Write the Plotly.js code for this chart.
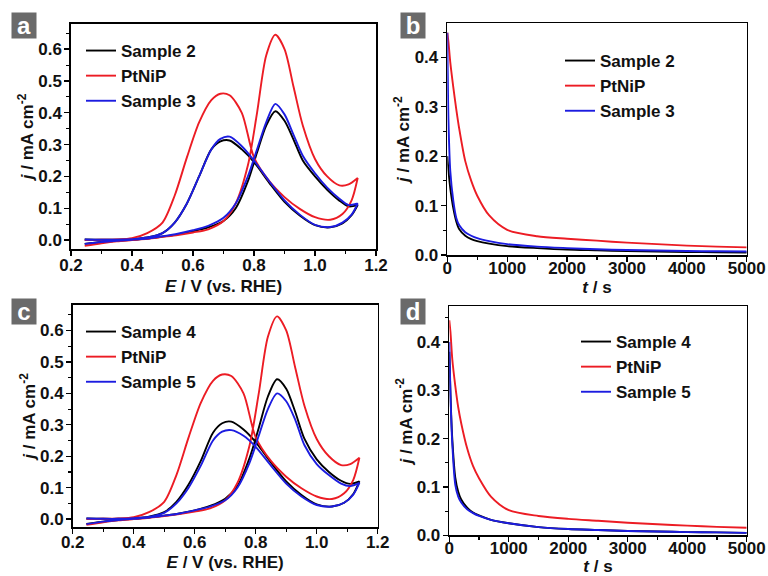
<!DOCTYPE html>
<html>
<head>
<meta charset="utf-8">
<script src="https://cdn.plot.ly/plotly-3.0.1.min.js"></script>
<style>html,body{margin:0;padding:0;background:#fff;}#chart{width:768px;height:576px;}</style>
</head>
<body>
<div id="chart"></div>
<script>
// ---- CV potential grids (V vs. RHE) ----
const cvE_fwd = [0.245,0.30,0.35,0.40,0.45,0.50,0.55,0.60,0.65,0.70,0.74,0.78,0.81,0.84,0.87,0.90,0.93,0.96,1.00,1.04,1.08,1.11,1.14];
const cvE_rev = [1.14,1.12,1.09,1.05,1.00,0.95,0.90,0.85,0.80,0.76,0.72,0.69,0.66,0.62,0.58,0.54,0.50,0.45,0.40,0.35,0.30,0.245];

// ---- CV current densities (mA cm-2) ----
const ptnip_fwd = [-0.018,-0.010,-0.004,0.000,0.004,0.010,0.016,0.024,0.034,0.060,0.115,0.235,0.400,0.580,0.645,0.600,0.480,0.360,0.255,0.200,0.172,0.175,0.195];
const ptnip_rev = [0.195,0.125,0.082,0.064,0.072,0.098,0.135,0.185,0.260,0.400,0.455,0.460,0.440,0.370,0.260,0.140,0.055,0.022,0.006,0.002,0.001,0.000];

const s2_fwd = [-0.012,-0.006,-0.002,0.001,0.005,0.011,0.018,0.028,0.040,0.060,0.100,0.185,0.275,0.360,0.405,0.375,0.315,0.250,0.200,0.158,0.124,0.106,0.110];
const s2_rev = [0.110,0.078,0.052,0.040,0.047,0.077,0.120,0.180,0.245,0.285,0.313,0.310,0.285,0.200,0.115,0.055,0.022,0.008,0.003,0.001,0.001,0.002];

const s3_fwd = [-0.012,-0.006,-0.002,0.001,0.005,0.012,0.020,0.031,0.045,0.070,0.115,0.200,0.285,0.370,0.428,0.395,0.330,0.265,0.210,0.165,0.130,0.110,0.115];
const s3_rev = [0.115,0.080,0.055,0.041,0.048,0.080,0.125,0.185,0.250,0.295,0.325,0.318,0.285,0.200,0.115,0.055,0.022,0.008,0.003,0.001,0.001,0.002];

const s4_fwd = [-0.015,-0.008,-0.003,0.001,0.005,0.011,0.018,0.028,0.042,0.065,0.105,0.195,0.290,0.390,0.445,0.415,0.340,0.255,0.190,0.150,0.122,0.112,0.120];
const s4_rev = [0.120,0.080,0.052,0.040,0.047,0.077,0.120,0.180,0.245,0.285,0.310,0.305,0.275,0.185,0.110,0.055,0.022,0.008,0.003,0.001,0.001,0.002];

const s5_fwd = [-0.016,-0.008,-0.003,0.001,0.005,0.011,0.018,0.028,0.040,0.060,0.100,0.180,0.265,0.350,0.400,0.375,0.315,0.235,0.175,0.140,0.113,0.105,0.115];
const s5_rev = [0.115,0.078,0.052,0.040,0.045,0.072,0.113,0.170,0.230,0.265,0.283,0.278,0.250,0.170,0.100,0.050,0.020,0.007,0.003,0.001,0.001,0.002];

// ---- Chronoamperometry ----
const caT = [0,20,50,100,150,200,300,400,500,700,1000,1500,2000,2500,3000,3500,4000,4500,5000];
const ca_ptnip_b = [0.450,0.430,0.390,0.340,0.295,0.255,0.190,0.150,0.120,0.080,0.051,0.038,0.033,0.029,0.025,0.022,0.019,0.017,0.0155];
const ca_s2 = [0.200,0.170,0.135,0.095,0.068,0.052,0.039,0.032,0.028,0.023,0.018,0.014,0.011,0.0095,0.008,0.007,0.006,0.0055,0.005];
const ca_s3 = [0.450,0.270,0.170,0.110,0.075,0.060,0.046,0.039,0.034,0.028,0.022,0.017,0.014,0.0115,0.010,0.009,0.008,0.0075,0.007];
const ca_ptnip_d = [0.445,0.420,0.365,0.310,0.265,0.232,0.180,0.143,0.118,0.080,0.052,0.040,0.034,0.030,0.026,0.023,0.020,0.0175,0.0155];
const ca_s4 = [0.380,0.290,0.200,0.120,0.090,0.074,0.057,0.047,0.041,0.032,0.025,0.017,0.013,0.011,0.009,0.008,0.0065,0.006,0.005];
const ca_s5 = [0.400,0.290,0.190,0.105,0.080,0.068,0.054,0.046,0.040,0.032,0.025,0.017,0.013,0.011,0.009,0.008,0.0065,0.006,0.005];

const names = {a:['Sample 2','PtNiP','Sample 3'], c:['Sample 4','PtNiP','Sample 5']};
const panelLetters = ['a','b','c','d'];

const BLACK='#000000', RED='#ec1c24', BLUE='#1c1ce0';
const FONT='Liberation Sans, Arial, Helvetica, sans-serif';

function loop(fwd, rev){ return fwd.concat(rev); }
const cvE = cvE_fwd.concat(cvE_rev);

function tr(x,y,name,color,xa,ya,leg){
  return {x:x,y:y,name:name,type:'scatter',mode:'lines',xaxis:xa,yaxis:ya,legend:leg,
          line:{color:color,width:1.9,shape:'spline',smoothing:0.8},hoverinfo:'skip'};
}

const data = [
  tr(cvE, loop(s2_fwd,s2_rev), names.a[0], BLACK,'x','y','legend'),
  tr(cvE, loop(ptnip_fwd,ptnip_rev), names.a[1], RED,'x','y','legend'),
  tr(cvE, loop(s3_fwd,s3_rev), names.a[2], BLUE,'x','y','legend'),
  tr(caT, ca_s2, names.a[0], BLACK,'x2','y2','legend2'),
  tr(caT, ca_ptnip_b, names.a[1], RED,'x2','y2','legend2'),
  tr(caT, ca_s3, names.a[2], BLUE,'x2','y2','legend2'),
  tr(cvE, loop(s4_fwd,s4_rev), names.c[0], BLACK,'x3','y3','legend3'),
  tr(cvE, loop(ptnip_fwd,ptnip_rev), names.c[1], RED,'x3','y3','legend3'),
  tr(cvE, loop(s5_fwd,s5_rev), names.c[2], BLUE,'x3','y3','legend3'),
  tr(caT, ca_s4, names.c[0], BLACK,'x4','y4','legend4'),
  tr(caT, ca_ptnip_d, names.c[1], RED,'x4','y4','legend4'),
  tr(caT, ca_s5, names.c[2], BLUE,'x4','y4','legend4')
];

const W=768,H=576;
function px(v){return v/W;} function py(v){return 1-v/H;}
const tickFont={family:FONT,size:17,color:'#111',weight:'bold'};

function ax(domain, range, dtick, minor, anchor, title, fmt, isY, lblOff, titleOff){
  return {domain:domain, range:range, anchor:anchor, dtick:dtick, tick0:0,
    tickformat:fmt, ticks:'outside', ticklen:5, tickwidth:1.3, tickcolor:'#000',
    ticklabelstandoff: lblOff,
    minor:{ticks:'outside', ticklen:3, tickwidth:1.1, dtick:minor, tickcolor:'#000', showgrid:false},
    showline:true, mirror:true, linecolor:'#000', linewidth:1.6,
    showgrid:false, zeroline:false, tickfont:tickFont, automargin:false,
    title:{text:title, font:{family:FONT,size:17,color:'#111',weight:'bold'}, standoff:titleOff}};
}
const ytitle='<i>j</i> / mA cm<sup>-2</sup>';
const xtitleE='<i>E</i> / V (vs. RHE)';
const xtitleT='<i>t</i> / s';

function leg(x,y){return {x:x,y:y,xanchor:'left',yanchor:'top',bgcolor:'rgba(0,0,0,0)',
  font:{family:FONT,size:17,color:'#111',weight:'bold'},itemwidth:30,tracegroupgap:0};}

const layout = {
  width:W, height:H, margin:{l:0,r:0,t:0,b:0}, paper_bgcolor:'#fff', plot_bgcolor:'#fff',
  showlegend:true,
  xaxis: ax([px(71),px(376)],[0.2,1.2],0.2,0.1,'y',xtitleE,'.1f',false,-5,6),
  yaxis: ax([py(249),py(24)],[-0.028,0.679],0.1,0.05,'x',ytitle,'.1f',true,-1,0),
  xaxis2: ax([px(447.3),px(746.7)],[0,5000],1000,500,'y2',xtitleT,'d',false,-8,4),
  yaxis2: ax([py(255),py(23.3)],[0,0.469],0.1,0.05,'x2',ytitle,'.1f',true,-1,0),
  xaxis3: ax([px(72.7),px(377.7)],[0.2,1.2],0.2,0.1,'y3',xtitleE,'.1f',false,-6,5),
  yaxis3: ax([py(527.3),py(304.7)],[-0.026,0.682],0.1,0.05,'x3',ytitle,'.1f',true,-1,0),
  xaxis4: ax([px(449.3),px(746.7)],[0,5000],1000,500,'y4',xtitleT,'d',false,-8,4),
  yaxis4: ax([py(535.3),py(306.3)],[0,0.474],0.1,0.05,'x4',ytitle,'.1f',true,-1,0),
  legend: leg(px(81),py(33)),
  legend2: leg(px(560),py(43)),
  legend3: leg(px(81),py(314)),
  legend4: leg(px(576),py(324)),
  annotations: [
    {t:'a',cx:23.5,cy:25.5},{t:'b',cx:413,cy:26},{t:'c',cx:23.5,cy:311},{t:'d',cx:413,cy:311.5}
  ].map(o=>({text:o.t, xref:'paper', yref:'paper', x:px(o.cx), y:py(o.cy), xanchor:'center', yanchor:'middle',
    showarrow:false, bgcolor:'#6a6a6a', width:22, height:23, borderpad:1,
    font:{family:FONT,size:24,color:'#fff',weight:'bold'}}))
};

Plotly.newPlot('chart', data, layout, {staticPlot:true, displayModeBar:false});
</script>
</body>
</html>
